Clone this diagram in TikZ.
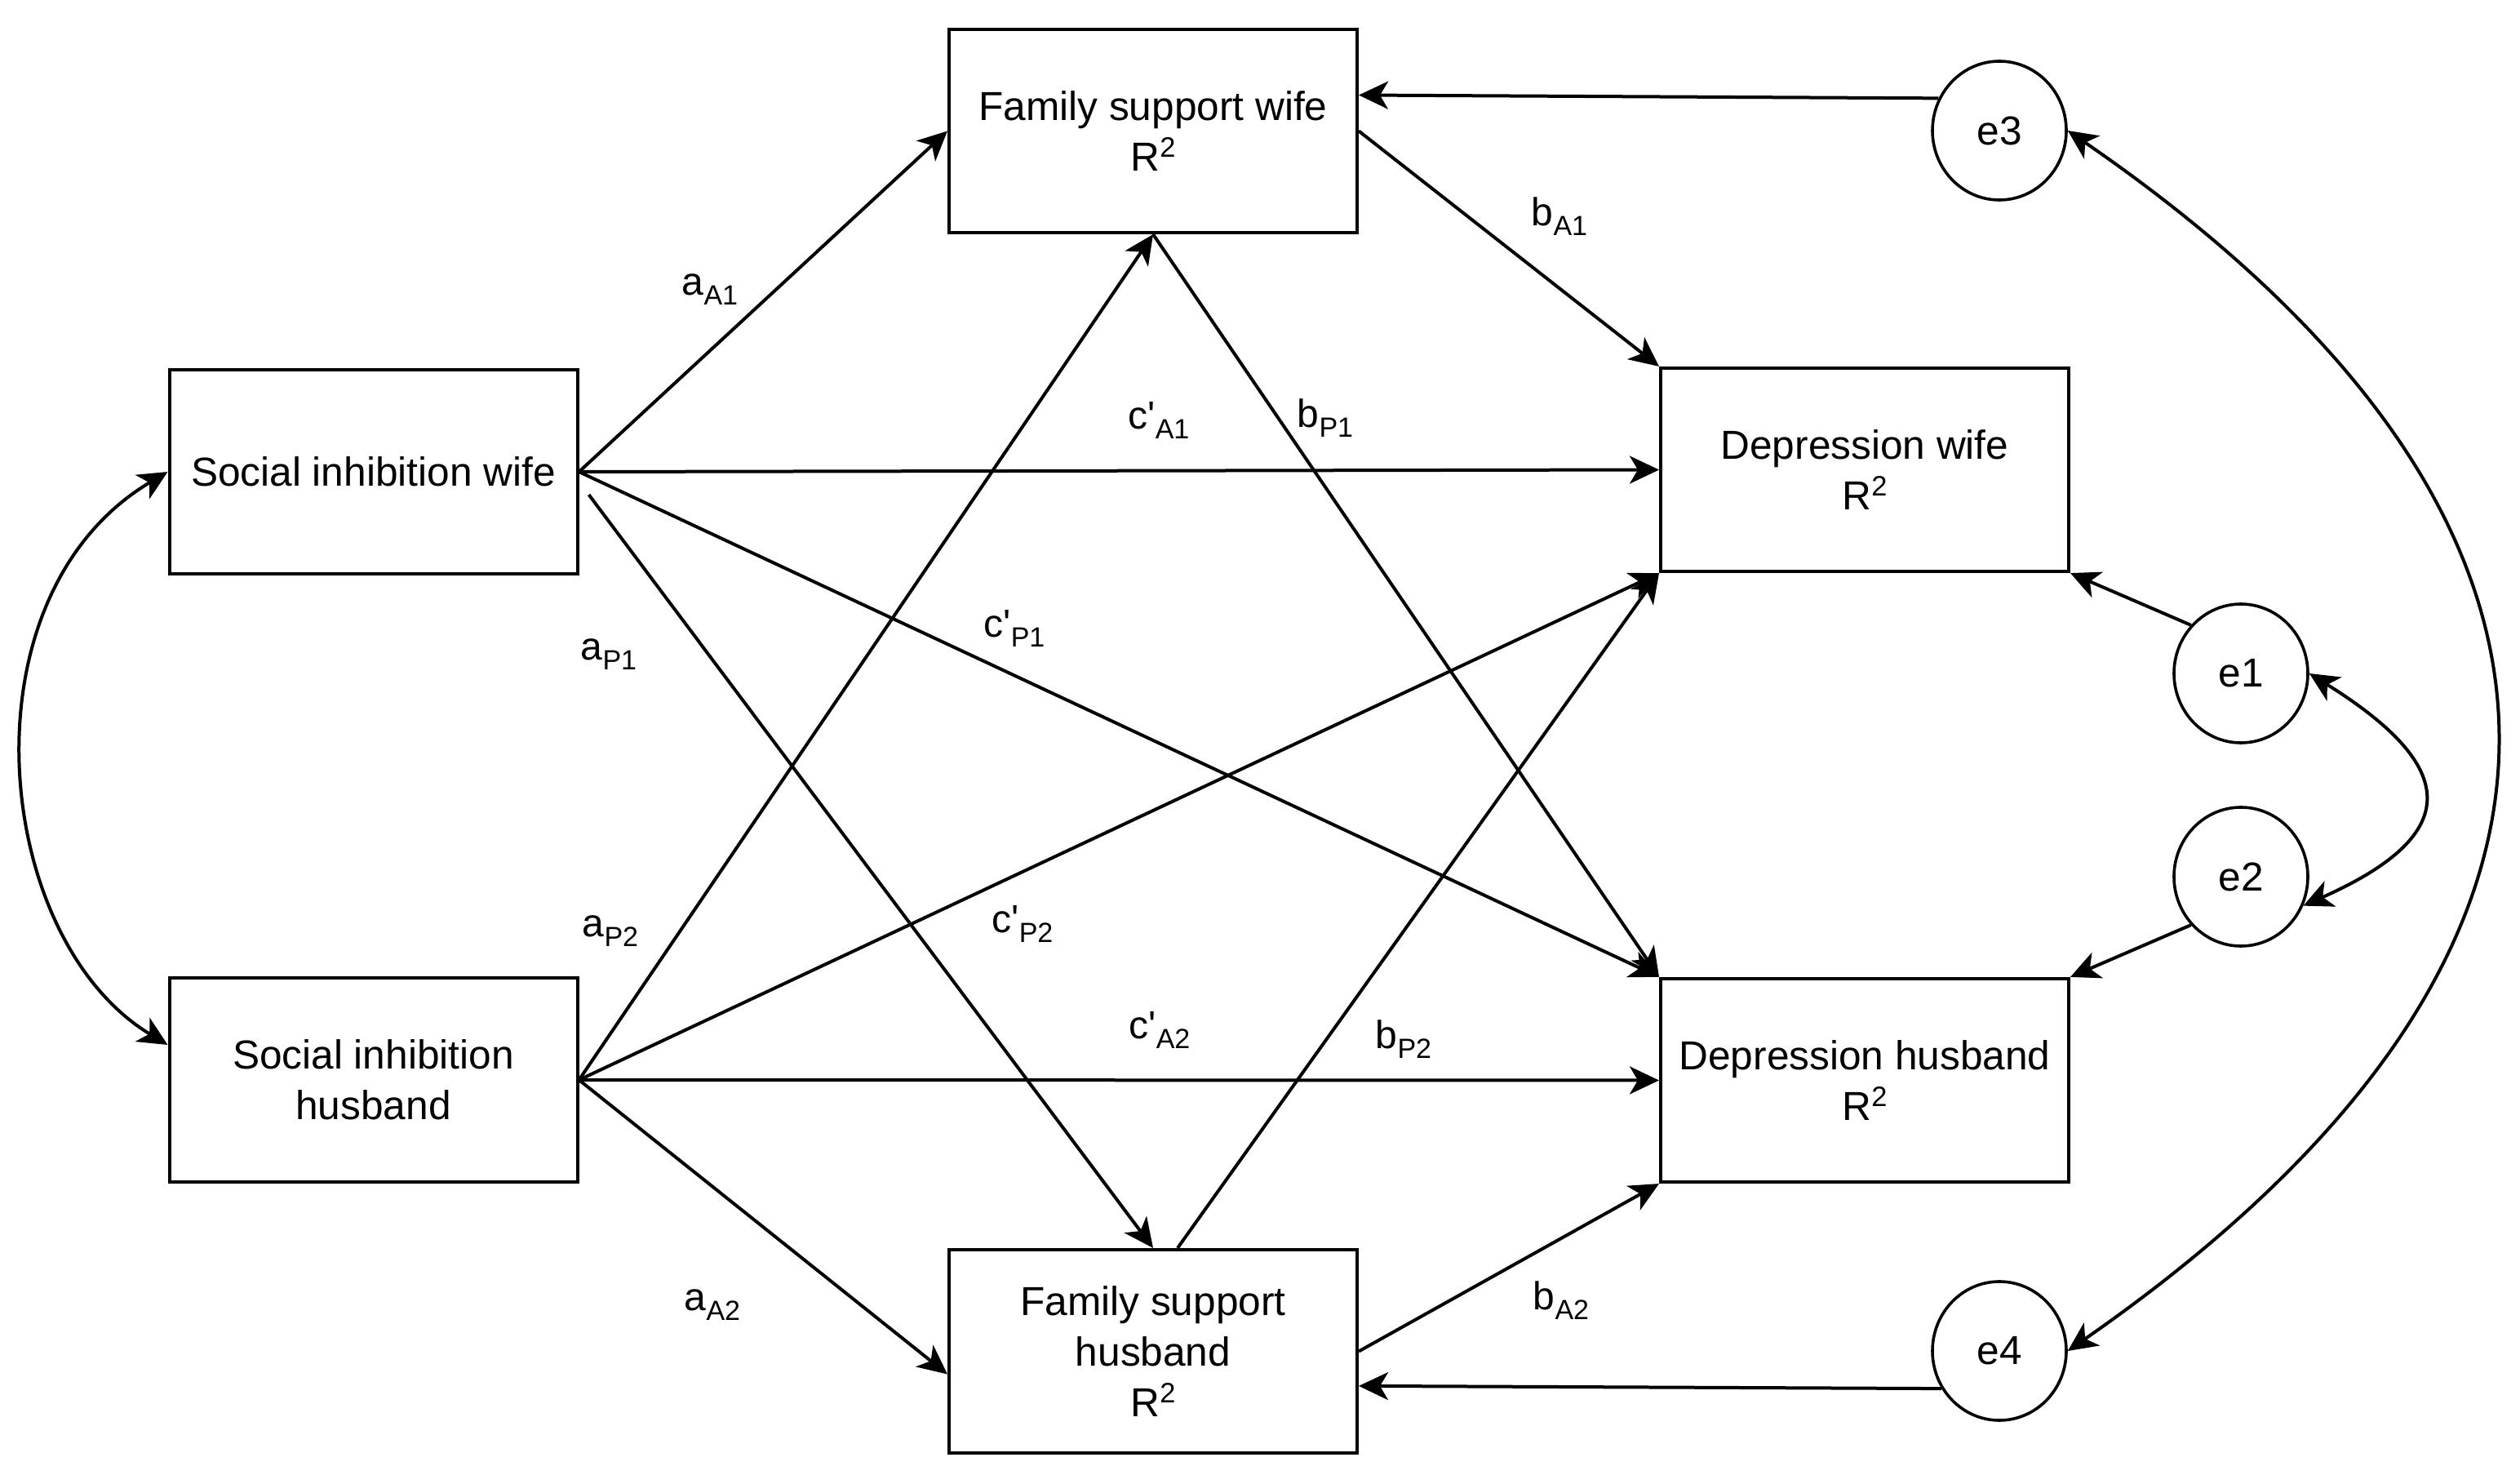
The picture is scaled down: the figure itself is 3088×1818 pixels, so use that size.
\documentclass[tikz,border=0pt]{standalone}
\usepackage{fontspec}
\setmainfont{Liberation Sans}
\newfontfamily\labfont{Liberation Sans}
\usetikzlibrary{arrows.meta,shapes.geometric}
\newcommand\supR{R\raisebox{4.2pt}{\fontsize{8.6pt}{8.6pt}\selectfont 2}}
\newcommand\lbl[2]{#1\raisebox{-3pt}{\fontsize{8.5pt}{8.5pt}\selectfont #2}}
\begin{document}
\begin{tikzpicture}[x=0.25pt,y=-0.25pt,
  box/.style={draw, line width=1pt, minimum width=125pt, minimum height=62.3pt, align=center, inner sep=2pt, font=\fontsize{12.4pt}{15.5pt}\selectfont},
  err/.style={draw, ellipse, line width=0.9pt, minimum width=41pt, minimum height=42.5pt, inner sep=0pt, font=\fontsize{12.4pt}{15.5pt}\selectfont},
  conn/.style={line width=1pt, -{Stealth[length=9pt,width=8.5pt,inset=2.5pt]}},
  dbl/.style={line width=1pt, {Stealth[length=9pt,width=8.5pt,inset=2.5pt]}-{Stealth[length=9pt,width=8.5pt,inset=2.5pt]}},
  lab/.style={inner sep=0pt, font=\labfont\fontsize{12pt}{14pt}\selectfont}]
\useasboundingbox (0,0) rectangle (3088,1818);

% boxes
\node[box] (siw) at (457.5,578) {Social inhibition wife};
\node[box] (sih) at (457.5,1323) {Social inhibition\\husband};
\node[box] (fsw) at (1413,160.5) {Family support wife\\\supR};
\node[box] (fsh) at (1413,1655.5) {Family support\\husband\\\supR};
\node[box] (dw) at (2285,575.5) {Depression wife\\\supR};
\node[box] (dh) at (2285,1323.5) {Depression husband\\\supR};

% error terms
\node[err] (e3) at (2450,160) {e3};
\node[err] (e1) at (2746,825) {e1};
\node[err] (e2) at (2746,1074) {e2};
\node[err] (e4) at (2450,1655) {e4};

% paths from social inhibition wife
\draw[conn] (siw.east) -- (fsw.west);
\draw[conn] (siw.east) -- (dw.west);
\draw[conn] (siw.east) -- (dh.north west);
\draw[conn] ([xshift=3pt,yshift=-7pt]siw.east) -- (fsh.north);

% paths from social inhibition husband
\draw[conn] (sih.east) -- (fsw.south);
\draw[conn] (sih.east) -- (dw.south west);
\draw[conn] (sih.east) -- (dh.west);
\draw[conn] (sih.east) -- ([yshift=-7pt]fsh.west);

% paths from family support
\draw[conn] (fsw.east) -- (dw.north west);
\draw[conn] (fsw.south) -- (dh.north west);
\draw[conn] ([xshift=7.5pt]fsh.north) -- (dw.south west);
\draw[conn] (fsh.east) -- (dh.south west);

% error paths
\draw[conn] (e3.152) -- ([yshift=11pt]fsw.east);
\draw[conn] (e4.213) -- ([yshift=-10.6pt]fsh.east);
\draw[conn] (e1.136) -- (dw.south east);
\draw[conn] (e2.224) -- (dh.north east);

% covariances
\draw[dbl] (siw.west) .. controls (-50,730) and (-10,1150) .. ([yshift=10.75pt]sih.west);
\draw[dbl] (e3.east) .. controls (3232,640) and (3232,1170) .. (e4.east);
\draw[dbl] (e1.east) .. controls (3011,938) and (3022,1021) .. (e2.335);

% labels
\node[lab] (laA1) at (870,355) {\lbl{a}{A1}};
\node[lab] (lcA1) at (1420,515) {\lbl{c'}{A1}};
\node[lab] (lbP1) at (1624,512) {\lbl{b}{P1}};
\node[lab] (lbA1) at (1911,265) {\lbl{b}{A1}};
\node[lab] (lcP1) at (1243,770) {\lbl{c'}{P1}};
\node[lab] (laP1) at (746,802) {\lbl{a}{P1}};
\node[lab] (laP2) at (748,1141) {\lbl{a}{P2}};
\node[lab] (lcP2) at (1253,1132) {\lbl{c'}{P2}};
\node[lab] (lcA2) at (1421,1262) {\lbl{c'}{A2}};
\node[lab] (lbP2) at (1720,1273) {\lbl{b}{P2}};
\node[lab] (laA2) at (873,1599) {\lbl{a}{A2}};
\node[lab] (lbA2) at (1913,1593) {\lbl{b}{A2}};
\end{tikzpicture}
\end{document}
